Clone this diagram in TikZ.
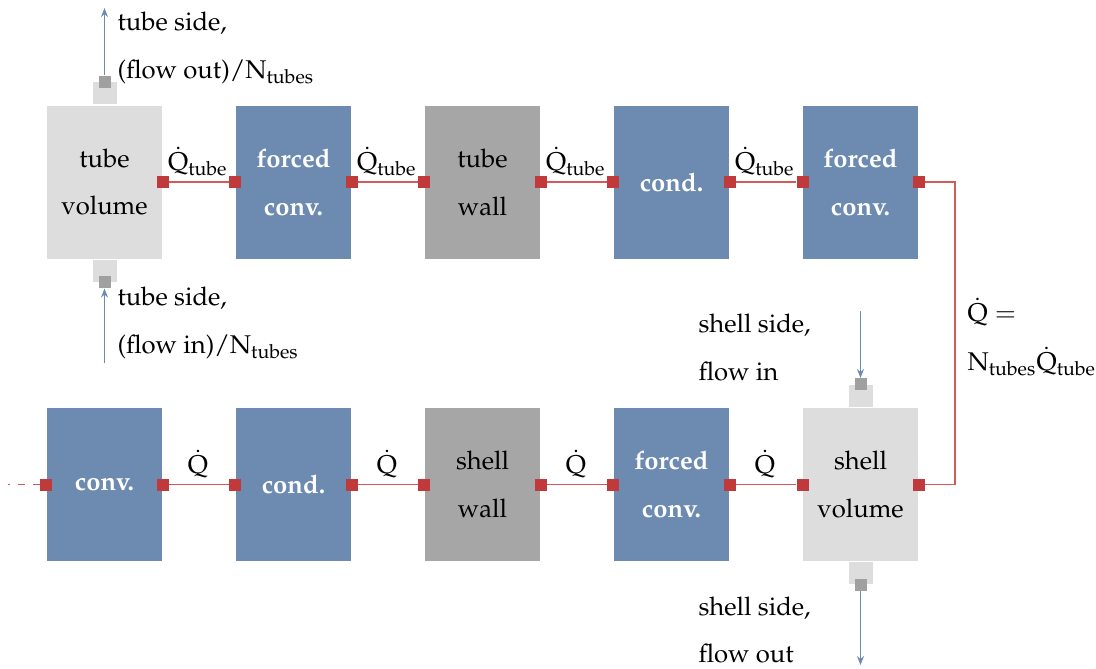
\documentclass[tikz,border=0pt]{standalone}
\usepackage[T1]{fontenc}
\usepackage{mathpazo}
\usetikzlibrary{arrows.meta}
\def\pxu{0.39pt}
\definecolor{boxblue}{HTML}{6D8BB1}
\definecolor{wallgray}{HTML}{A6A6A6}
\definecolor{volgray}{HTML}{DDDDDD}
\definecolor{portred}{HTML}{C0393B}
\definecolor{linered}{HTML}{D45A5A}
\definecolor{portgray}{HTML}{A0A0A0}
\definecolor{flowblue}{HTML}{6D8BB1}
\tikzset{
  blk/.style={rectangle, inner sep=0pt, minimum width=115*\pxu, minimum height=153*\pxu, align=center,
    font={\fontsize{10}{18.7}\selectfont}},
  conv/.style={blk, fill=boxblue, text=white, font={\fontsize{10}{18.7}\selectfont\bfseries}},
  wall/.style={blk, fill=wallgray, text=black},
  vol/.style={blk, fill=volgray, text=black},
  port/.style={rectangle, inner sep=0pt, minimum size=12*\pxu, fill=portred},
  gport/.style={rectangle, inner sep=0pt, minimum size=12*\pxu, fill=portgray},
  stub/.style={rectangle, inner sep=0pt, minimum width=24*\pxu, minimum height=22*\pxu, fill=volgray},
  heat/.style={draw=linered, line width=0.45pt},
  flow/.style={draw=flowblue, line width=0.45pt, -{Stealth[length=9*\pxu, width=7*\pxu]}},
  lbl/.style={inner sep=0pt, anchor=base west, font={\fontsize{10}{12}\selectfont}},
  qlbl/.style={inner sep=0pt, anchor=base, font={\fontsize{10}{12}\selectfont}},
}
\begin{document}
\begin{tikzpicture}[x=0.39pt, y=-0.39pt]
\useasboundingbox (0,0) rectangle (1096,668);
% top row
\node[vol]  (tv)  at (104.5,182) {tube\\volume};
\node[conv] (fc1) at (293.5,182) {forced\\conv.};
\node[wall] (tw)  at (482.5,182) {tube\\wall};
\node[conv] (cd1) at (671.5,182) {cond.};
\node[conv] (fc2) at (860.5,182) {forced\\conv.};
% bottom row
\node[conv] (cv)  at (104.5,484.5) {conv.};
\node[conv] (cd2) at (293.5,484.5) {cond.};
\node[wall] (sw)  at (482.5,484.5) {shell\\wall};
\node[conv] (fc3) at (671.5,484.5) {forced\\conv.};
\node[vol]  (sv)  at (860.5,484.5) {shell\\volume};
% stubs
\node[stub, anchor=south] (tvs1) at (tv.north) {};
\node[stub, anchor=north] (tvs2) at (tv.south) {};
\node[stub, anchor=south] (svs1) at (sv.north) {};
\node[stub, anchor=north] (svs2) at (sv.south) {};
\node[gport] (tvg1) at (tvs1.north) {};
\node[gport] (tvg2) at (tvs2.south) {};
\node[gport] (svg1) at (svs1.north) {};
\node[gport] (svg2) at (svs2.south) {};
% ports top
\node[port] (tvE) at (tv.east) {};
\node[port] (fc1W) at (fc1.west) {};
\node[port] (fc1E) at (fc1.east) {};
\node[port] (twW) at (tw.west) {};
\node[port] (twE) at (tw.east) {};
\node[port] (cd1W) at (cd1.west) {};
\node[port] (cd1E) at (cd1.east) {};
\node[port] (fc2W) at (fc2.west) {};
\node[port] (fc2E) at (fc2.east) {};
% ports bottom
\node[port] (cvW) at (cv.west) {};
\node[port] (cvE) at (cv.east) {};
\node[port] (cd2W) at (cd2.west) {};
\node[port] (cd2E) at (cd2.east) {};
\node[port] (swW) at (sw.west) {};
\node[port] (swE) at (sw.east) {};
\node[port] (fc3W) at (fc3.west) {};
\node[port] (fc3E) at (fc3.east) {};
\node[port] (svW) at (sv.west) {};
\node[port] (svE) at (sv.east) {};
% heat connectors
\draw[heat] (tvE) -- (fc1W);
\draw[heat] (fc1E) -- (twW);
\draw[heat] (twE) -- (cd1W);
\draw[heat] (cd1E) -- (fc2W);
\draw[heat] (fc2E) -- (955,182) -- (955,484.5) -- (svE);
\draw[heat] (cvE) -- (cd2W);
\draw[heat] (cd2E) -- (swW);
\draw[heat] (swE) -- (fc3W);
\draw[heat] (fc3E) -- (svW);
\coordinate (dashend) at (8,484.5);
\draw[heat, dash pattern=on 7*\pxu off 8*\pxu] (cvW) -- (dashend);
% heat labels
\node[qlbl] (q1) at (198,170) {$\dot{\mathrm{Q}}_{\mathrm{tube}}$};
\node[qlbl] (q2) at (387,170) {$\dot{\mathrm{Q}}_{\mathrm{tube}}$};
\node[qlbl] (q3) at (576,170) {$\dot{\mathrm{Q}}_{\mathrm{tube}}$};
\node[qlbl] (q4) at (765,170) {$\dot{\mathrm{Q}}_{\mathrm{tube}}$};
\node[qlbl] (q5) at (198,473) {$\dot{\mathrm{Q}}$};
\node[qlbl] (q6) at (387,473) {$\dot{\mathrm{Q}}$};
\node[qlbl] (q7) at (576,473) {$\dot{\mathrm{Q}}$};
\node[qlbl] (q8) at (765,473) {$\dot{\mathrm{Q}}$};
\node[lbl] (qa) at (967,321) {$\dot{\mathrm{Q}} =$};
\node[lbl] (qb) at (967,370) {$\mathrm{N}_{\mathrm{tubes}}\dot{\mathrm{Q}}_{\mathrm{tube}}$};
% flows
\coordinate (tvout) at (104.5,8);
\coordinate (tvin) at (104.5,363);
\coordinate (svin) at (860.5,311);
\coordinate (svout) at (860.5,665);
\draw[flow] (tvg1) -- (tvout);
\draw[flow] (tvin) -- (tvg2);
\draw[flow] (svin) -- (svg1);
\draw[flow] (svg2) -- (svout);
% flow labels
\node[lbl] (l1) at (117,30) {tube side,};
\node[lbl] (l2) at (117,78) {(flow out)/$\mathrm{N}_{\mathrm{tubes}}$};
\node[lbl] (l3) at (117,305) {tube side,};
\node[lbl] (l4) at (117,353) {(flow in)/$\mathrm{N}_{\mathrm{tubes}}$};
\node[lbl] (l5) at (698,332) {shell side,};
\node[lbl] (l6) at (698,380) {flow in};
\node[lbl] (l7) at (698,615) {shell side,};
\node[lbl] (l8) at (698,662) {flow out};
\end{tikzpicture}
\end{document}
